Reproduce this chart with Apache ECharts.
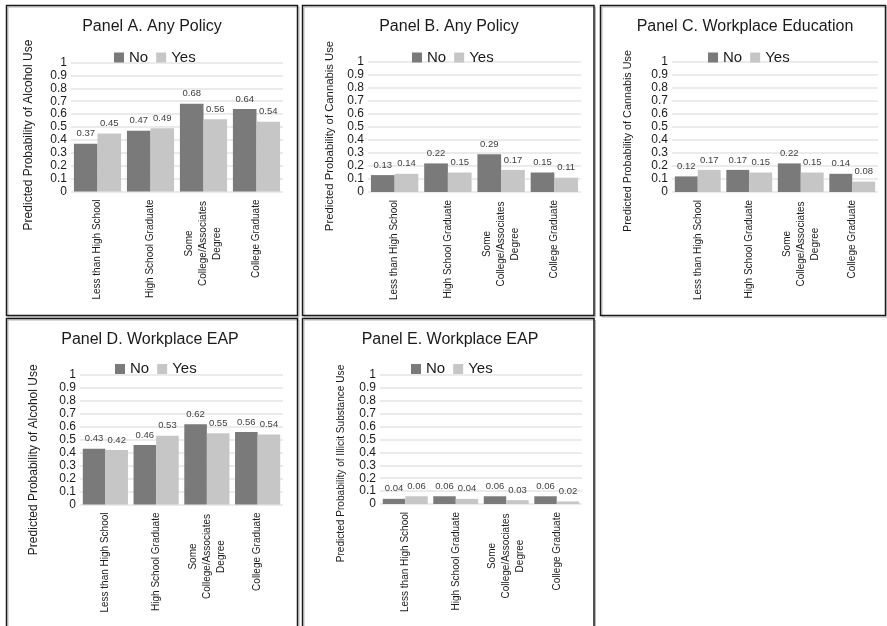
<!DOCTYPE html>
<html>
<head>
<meta charset="utf-8">
<title>Predicted probabilities by education and workplace policy</title>
<script src="https://cdn.jsdelivr.net/npm/echarts@6/dist/echarts.min.js"></script>
<style>
  html, body { margin: 0; padding: 0; background: #fff; }
  #chart { width: 887px; height: 626px; }
</style>
</head>
<body>
<div id="chart"></div>
<script>
// Education categories shared by every panel
const categories = ['Less than High School', 'High School Graduate', 'Some\nCollege/Associates\nDegree', 'College Graduate'];
const seriesNames = ['No', 'Yes'];
const yTicks = [0, 0.1, 0.2, 0.3, 0.4, 0.5, 0.6, 0.7, 0.8, 0.9, 1];

// Panel A. Any Policy - alcohol use
const panelANo = [0.37, 0.47, 0.68, 0.64];
const panelAYes = [0.45, 0.49, 0.56, 0.54];
// Panel B. Any Policy - cannabis use
const panelBNo = [0.13, 0.22, 0.29, 0.15];
const panelBYes = [0.14, 0.15, 0.17, 0.11];
// Panel C. Workplace Education - cannabis use
const panelCNo = [0.12, 0.17, 0.22, 0.14];
const panelCYes = [0.17, 0.15, 0.15, 0.08];
// Panel D. Workplace EAP - alcohol use
const panelDNo = [0.43, 0.46, 0.62, 0.56];
const panelDYes = [0.42, 0.53, 0.55, 0.54];
// Panel E. Workplace EAP - illicit substance use
const panelENo = [0.04, 0.06, 0.06, 0.06];
const panelEYes = [0.06, 0.04, 0.03, 0.02];

const panelTitles = ['Panel A. Any Policy', 'Panel B. Any Policy', 'Panel C. Workplace Education', 'Panel D. Workplace EAP', 'Panel E. Workplace EAP'];
const yTitles = ['Predicted Probability of Alcohol Use', 'Predicted Probability of Cannabis Use', 'Predicted Probability of Cannabis Use', 'Predicted Probability of Alcohol Use', 'Predicted Probability of Illicit Substance Use'];
const noValues = [panelANo, panelBNo, panelCNo, panelDNo, panelENo];
const yesValues = [panelAYes, panelBYes, panelCYes, panelDYes, panelEYes];

// Layout of each panel: frame, plot area, title/legend anchors, axis-title placement
const layout = [
  { box: [6.5, 5.5, 291, 310], grid: [71, 62.5, 212, 129], titleX: 152, titleY: 19, legendX: 114, legendY: 50, nameGap: 36, nameShift: 8, nameSize: 12 },
  { box: [302.5, 5.5, 291.5, 310], grid: [368, 62, 213, 130], titleX: 449, titleY: 19, legendX: 412, legendY: 50, nameGap: 33, nameShift: 9, nameSize: 11.3 },
  { box: [600.5, 5.5, 285, 310], grid: [672, 62, 206, 130], titleX: 745, titleY: 19, legendX: 708, legendY: 50, nameGap: 38, nameShift: 14, nameSize: 10.8 },
  { box: [6.5, 318.5, 291, 320], grid: [80, 375, 203, 129.5], titleX: 150, titleY: 331.5, legendX: 115, legendY: 361.5, nameGap: 40, nameShift: 20, nameSize: 12 },
  { box: [302.5, 318.5, 291.5, 320], grid: [380, 375, 202, 129], titleX: 450, titleY: 331.5, legendX: 411, legendY: 361.5, nameGap: 34, nameShift: 24, nameSize: 10.1 }
];

const FONT = "'Liberation Sans', Arial, sans-serif";
const colorNo = '#7a7a7a';
const colorYes = '#c6c6c6';

const titles = [], legends = [], grids = [], xAxes = [], yAxes = [], series = [], frames = [];

layout.forEach((p, i) => {
  titles.push({
    text: panelTitles[i],
    left: p.titleX,
    top: p.titleY,
    textAlign: 'center',
    padding: 0,
    textStyle: { fontFamily: FONT, fontSize: 16, fontWeight: 'normal', color: '#1a1a1a' }
  });
  legends.push({
    data: seriesNames,
    left: p.legendX,
    top: p.legendY,
    padding: 0,
    itemWidth: 10,
    itemHeight: 10,
    itemGap: 8,
    icon: 'rect',
    selectedMode: false,
    textStyle: { fontFamily: FONT, fontSize: 15, color: '#1a1a1a' }
  });
  grids.push({ left: p.grid[0], top: p.grid[1], width: p.grid[2], height: p.grid[3] });
  xAxes.push({
    type: 'category',
    gridIndex: i,
    data: categories,
    axisLine: { show: false },
    axisTick: { show: false },
    axisLabel: {
      rotate: 90,
      interval: 0,
      margin: 8,
      fontFamily: FONT,
      fontSize: 10,
      lineHeight: 14,
      color: '#1a1a1a',
      formatter: (v) => v.indexOf('\n') < 0 ? v : v.split('\n').map(s => '{c|' + s + '}').join('\n'),
      rich: { c: { width: 88, align: 'center', fontFamily: FONT, fontSize: 10, lineHeight: 14, color: '#1a1a1a' } }
    }
  });
  yAxes.push({
    type: 'value',
    gridIndex: i,
    min: yTicks[0],
    max: yTicks[yTicks.length - 1],
    interval: 0.1,
    name: yTitles[i],
    nameLocation: 'middle',
    nameGap: p.nameGap,
    nameTextStyle: { fontFamily: FONT, fontSize: p.nameSize, color: '#1a1a1a', padding: [0, p.nameShift * 2, 0, 0] },
    axisLine: { show: false },
    axisTick: { show: false },
    axisLabel: { margin: 4, fontFamily: FONT, fontSize: 12, color: '#1a1a1a' },
    splitLine: { lineStyle: { color: '#e4e4e4', width: 1.5 } }
  });
  [[noValues[i], colorNo, 'No'], [yesValues[i], colorYes, 'Yes']].forEach(([vals, col, nm]) => {
    series.push({
      type: 'bar',
      name: nm,
      xAxisIndex: i,
      yAxisIndex: i,
      data: vals,
      barGap: '0%',
      barCategoryGap: '11%',
      itemStyle: { color: col },
      label: {
        show: true,
        position: 'top',
        distance: 5,
        fontFamily: FONT,
        fontSize: 9.5,
        color: '#404040',
        formatter: (d) => d.value.toFixed(2)
      }
    });
  });
  // soft grey edge beside the black panel frame
  frames.push({
    type: 'rect',
    shape: { x: p.box[0] + 1.5, y: p.box[1] + 1.5, width: p.box[2], height: p.box[3] },
    style: { fill: 'none', stroke: '#b4b4b4', lineWidth: 1 },
    silent: true
  });
  frames.push({
    type: 'rect',
    shape: { x: p.box[0], y: p.box[1], width: p.box[2], height: p.box[3] },
    style: { fill: 'none', stroke: '#1a1a1a', lineWidth: 1.5 },
    silent: true
  });
});

const chart = echarts.init(document.getElementById('chart'), null, { renderer: 'canvas' });
chart.setOption({
  animation: false,
  backgroundColor: '#fff',
  title: titles,
  legend: legends,
  grid: grids,
  xAxis: xAxes,
  yAxis: yAxes,
  series: series,
  graphic: frames
});
</script>
</body>
</html>
